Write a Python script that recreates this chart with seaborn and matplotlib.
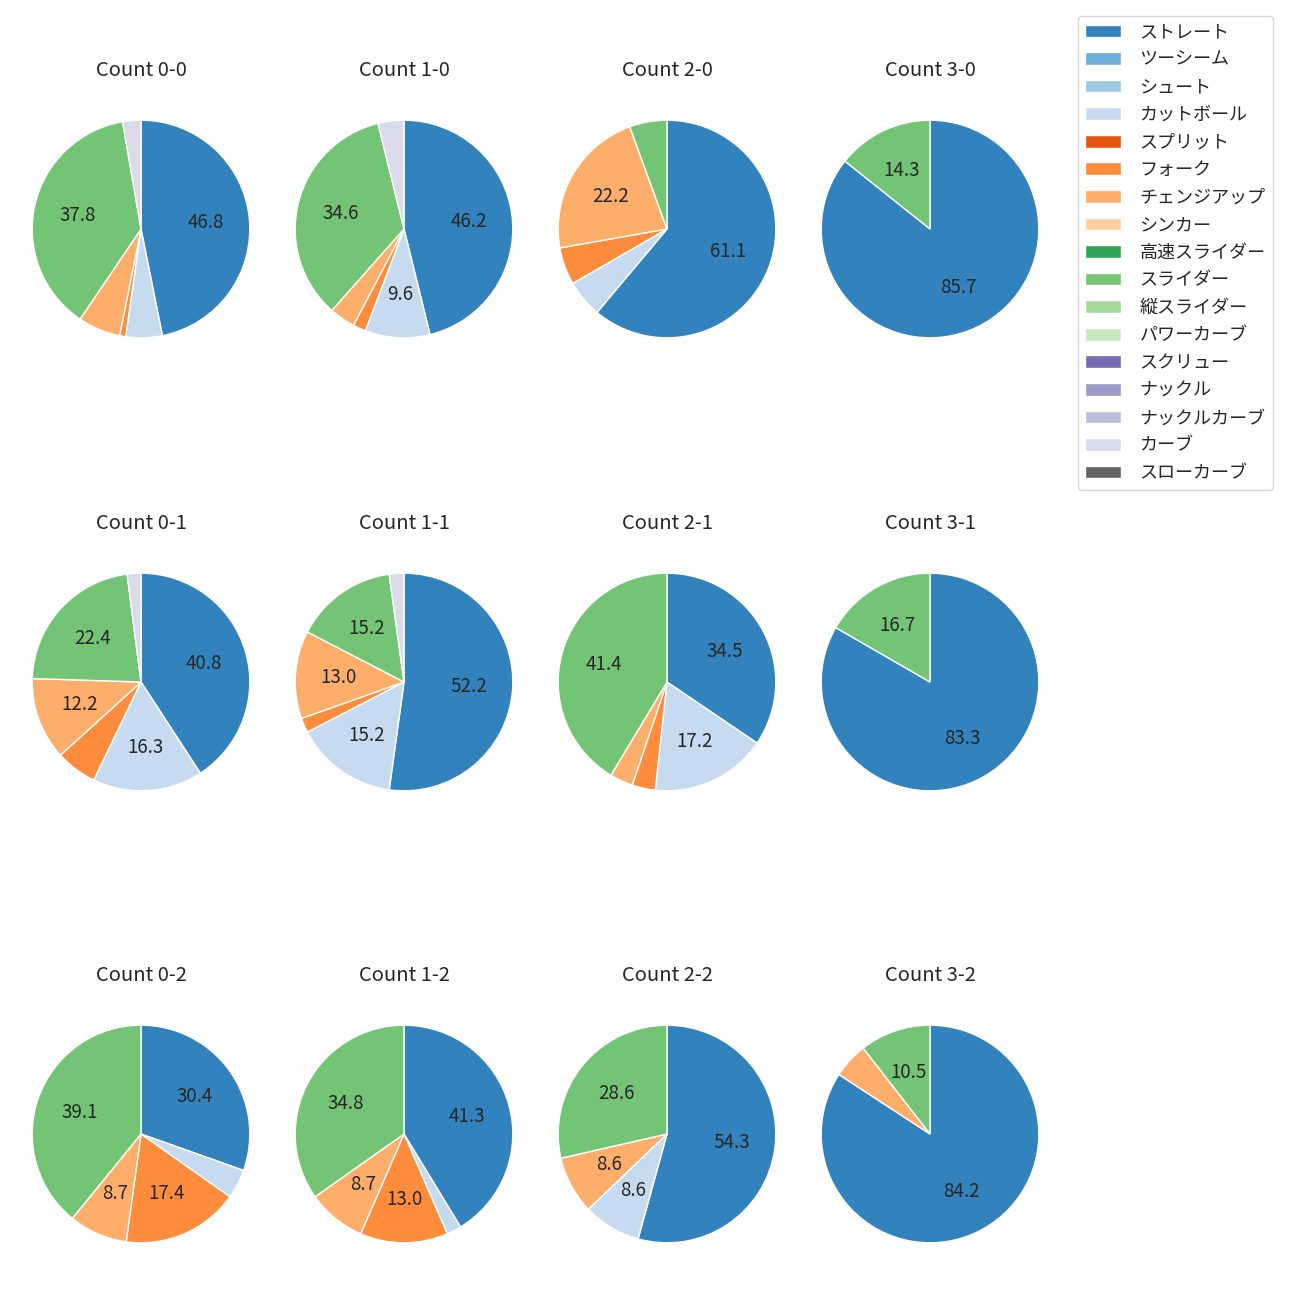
import matplotlib
matplotlib.use('Agg')
import matplotlib.pyplot as plt
import seaborn as sns
from matplotlib.patches import Patch

sns.set_style('white')
plt.rcParams['font.family'] = ['Noto Sans CJK JP', 'DejaVu Sans']
plt.rcParams['font.size'] = 12

pitch_types = ['ストレート', 'ツーシーム', 'シュート', 'カットボール', 'スプリット', 'フォーク',
               'チェンジアップ', 'シンカー', '高速スライダー', 'スライダー', '縦スライダー',
               'パワーカーブ', 'スクリュー', 'ナックル', 'ナックルカーブ', 'カーブ', 'スローカーブ']

count_labels = ['0-0', '1-0', '2-0', '3-0',
                '0-1', '1-1', '2-1', '3-1',
                '0-2', '1-2', '2-2', '3-2']

# pitch counts per situation, in pitch_types order
c_0_0 = [52, 0, 0, 6, 0, 1, 7, 0, 0, 42, 0, 0, 0, 0, 0, 3, 0]
c_1_0 = [24, 0, 0, 5, 0, 1, 2, 0, 0, 18, 0, 0, 0, 0, 0, 2, 0]
c_2_0 = [11, 0, 0, 1, 0, 1, 4, 0, 0, 1, 0, 0, 0, 0, 0, 0, 0]
c_3_0 = [6, 0, 0, 0, 0, 0, 0, 0, 0, 1, 0, 0, 0, 0, 0, 0, 0]
c_0_1 = [20, 0, 0, 8, 0, 3, 6, 0, 0, 11, 0, 0, 0, 0, 0, 1, 0]
c_1_1 = [24, 0, 0, 7, 0, 1, 6, 0, 0, 7, 0, 0, 0, 0, 0, 1, 0]
c_2_1 = [10, 0, 0, 5, 0, 1, 1, 0, 0, 12, 0, 0, 0, 0, 0, 0, 0]
c_3_1 = [5, 0, 0, 0, 0, 0, 0, 0, 0, 1, 0, 0, 0, 0, 0, 0, 0]
c_0_2 = [7, 0, 0, 1, 0, 4, 2, 0, 0, 9, 0, 0, 0, 0, 0, 0, 0]
c_1_2 = [19, 0, 0, 1, 0, 6, 4, 0, 0, 16, 0, 0, 0, 0, 0, 0, 0]
c_2_2 = [19, 0, 0, 3, 0, 0, 3, 0, 0, 10, 0, 0, 0, 0, 0, 0, 0]
c_3_2 = [16, 0, 0, 0, 0, 0, 1, 0, 0, 2, 0, 0, 0, 0, 0, 0, 0]

all_counts = [c_0_0, c_1_0, c_2_0, c_3_0,
              c_0_1, c_1_1, c_2_1, c_3_1,
              c_0_2, c_1_2, c_2_2, c_3_2]

palette = sns.color_palette('tab20c', 20)[:len(pitch_types)]

W, H = 1300, 1300
fig = plt.figure(figsize=(13, 13), dpi=100)

col_cx = [141, 404, 667, 930]
row_cy = [229, 682, 1134]
box = 272

def pct_fmt(p):
    return f'{p:.1f}' if p >= 8 else ''

for i, (lab, vals) in enumerate(zip(count_labels, all_counts)):
    r, c = divmod(i, 4)
    cx, cy = col_cx[c], row_cy[r]
    ax = fig.add_axes([(cx - box / 2) / W, 1 - (cy + box / 2) / H, box / W, box / H])
    v = [x for x in vals if x > 0]
    cols = [palette[k] for k, x in enumerate(vals) if x > 0]
    ax.pie(v, colors=cols, startangle=90, counterclock=False,
           autopct=pct_fmt, pctdistance=0.6, textprops={'fontsize': 13.5})
    ax.set_title(f'Count {lab}', fontsize=14.5, pad=12)

handles = [Patch(facecolor=palette[k], label=t) for k, t in enumerate(pitch_types)]
fig.legend(handles=handles, loc='upper left', bbox_to_anchor=(1069 / W, 1 - 7 / H),
           fontsize=13, frameon=True, labelspacing=0.53, handletextpad=1.0)

fig.savefig('out.png', dpi=100)
